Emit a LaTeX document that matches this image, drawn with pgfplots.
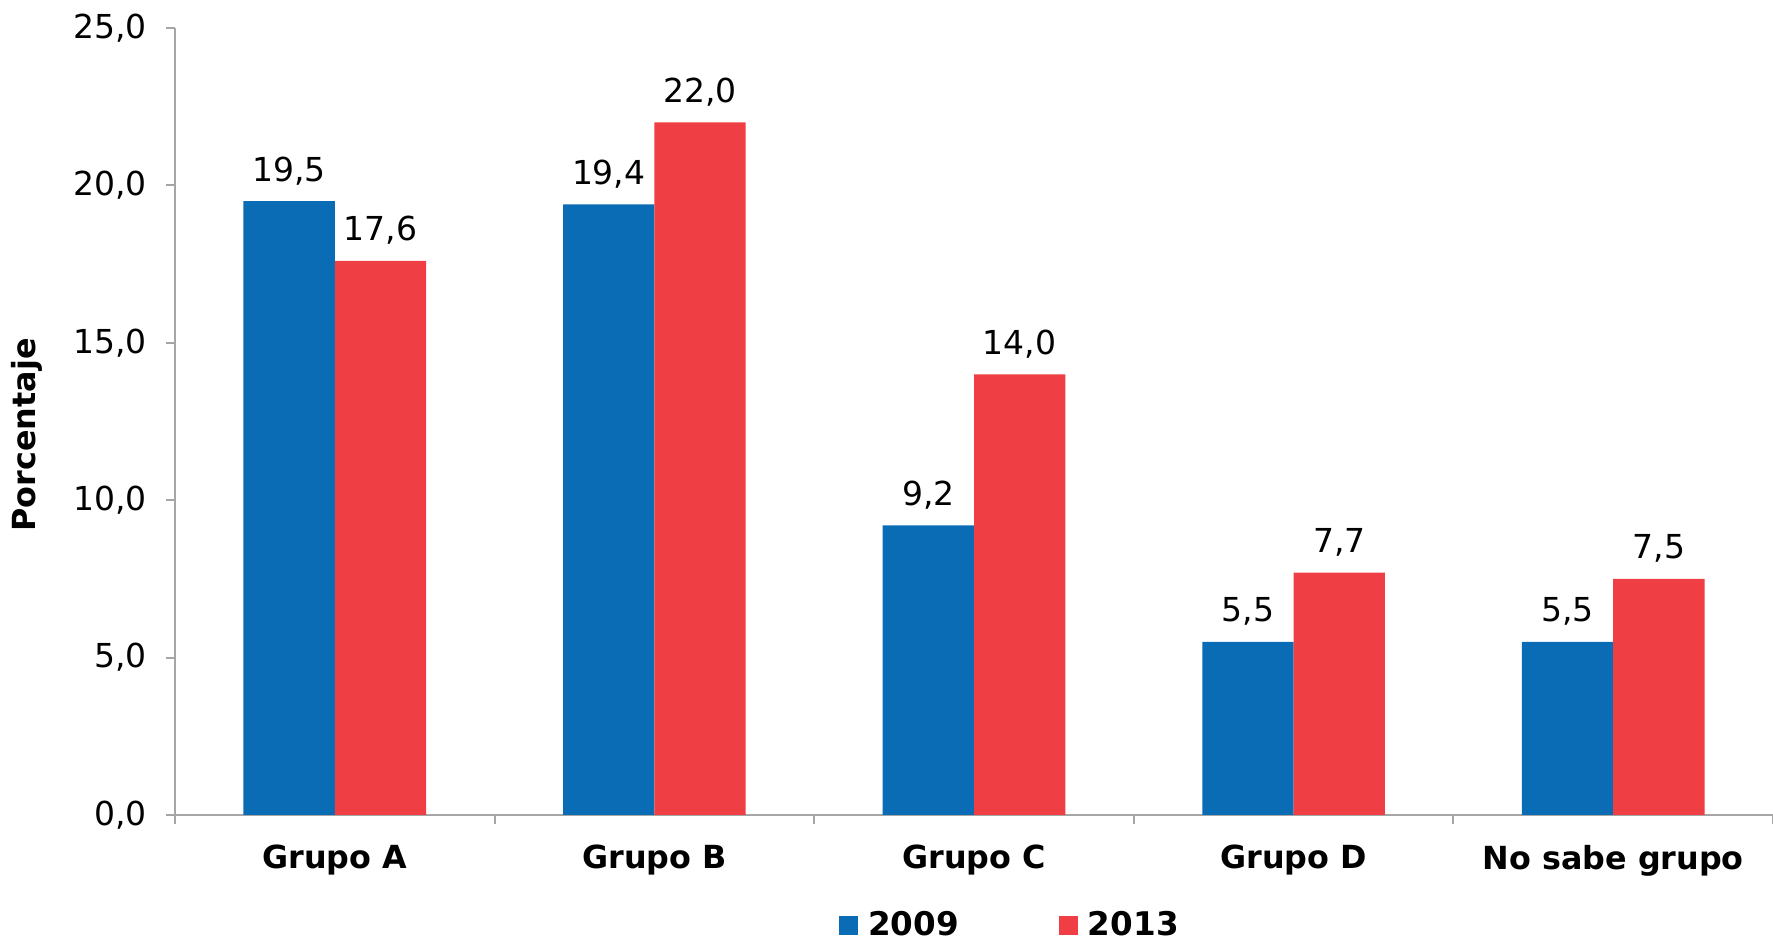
\documentclass[border=0pt]{standalone}
\usepackage{fontspec}
\setmainfont{DejaVu Sans}
\usepackage{pgfplots}
\pgfplotsset{compat=1.18}
\definecolor{cblue}{HTML}{0A6CB5}
\definecolor{cred}{HTML}{EF3E44}
\definecolor{axgray}{HTML}{A6A6A6}
\begin{document}
\begin{tikzpicture}[font=\fontsize{16.5pt}{19pt}\selectfont]
\path[use as bounding box] (0,0) rectangle (886.5pt,474pt);
\begin{axis}[
  at={(87.5pt,66.5pt)}, anchor=south west,
  scale only axis, width=799pt, height=393.5pt,
  xmin=-0.5, xmax=4.5, ymin=0, ymax=25,
  clip=false,
  ybar, bar width=0.2857,
  axis lines*=left,
  axis line style={draw=axgray, line width=1pt, -},
  ytick={0,5,...,25},
  xtick={0,...,4},
  xticklabels={Grupo A, Grupo B, Grupo C, Grupo D, No sabe grupo},
  minor xtick={-0.5,0.5,...,4.5},
  major x tick style={draw=none},
  tick align=outside,
  tick style={draw=axgray, line width=1pt},
  major tick length=4.5pt, minor tick length=4.5pt,
  /pgf/number format/.cd, fixed, fixed zerofill, precision=1, use comma, assume math mode=true,
  /pgfplots/.cd,
  y tick label style={xshift=-6pt},
  x tick label style={font=\fontsize{15.9pt}{18pt}\selectfont\bfseries, yshift=-7pt},
  ylabel={\fontsize{15.9pt}{18pt}\selectfont\bfseries Porcentaje},
  every axis y label/.style={at={(axis description cs:0,0.483)}, xshift=-74pt, rotate=90, anchor=center},
  legend style={at={(0.523,-0.14)}, anchor=center, draw=none, legend columns=2,
    font=\fontsize{16.3pt}{19pt}\selectfont\bfseries,
    /tikz/every even column/.append style={column sep=48pt}},
  legend image code/.code={\fill[#1] (0pt,-4.8pt) rectangle (9.6pt,4.8pt);},
  nodes near coords,
  every node near coord/.append style={anchor=base, yshift=10pt, black, font=\fontsize{16.5pt}{19pt}\selectfont},
]
\addplot[fill=cblue, draw=none, bar shift=-0.142857] coordinates {(0,19.5) (1,19.4) (2,9.2) (3,5.5) (4,5.5)};
\addplot[fill=cred, draw=none, bar shift=0.142857] coordinates {(0,17.6) (1,22.0) (2,14.0) (3,7.7) (4,7.5)};
\legend{\hspace{3pt}2009,\hspace{3pt}2013}
\end{axis}
\end{tikzpicture}
\end{document}
